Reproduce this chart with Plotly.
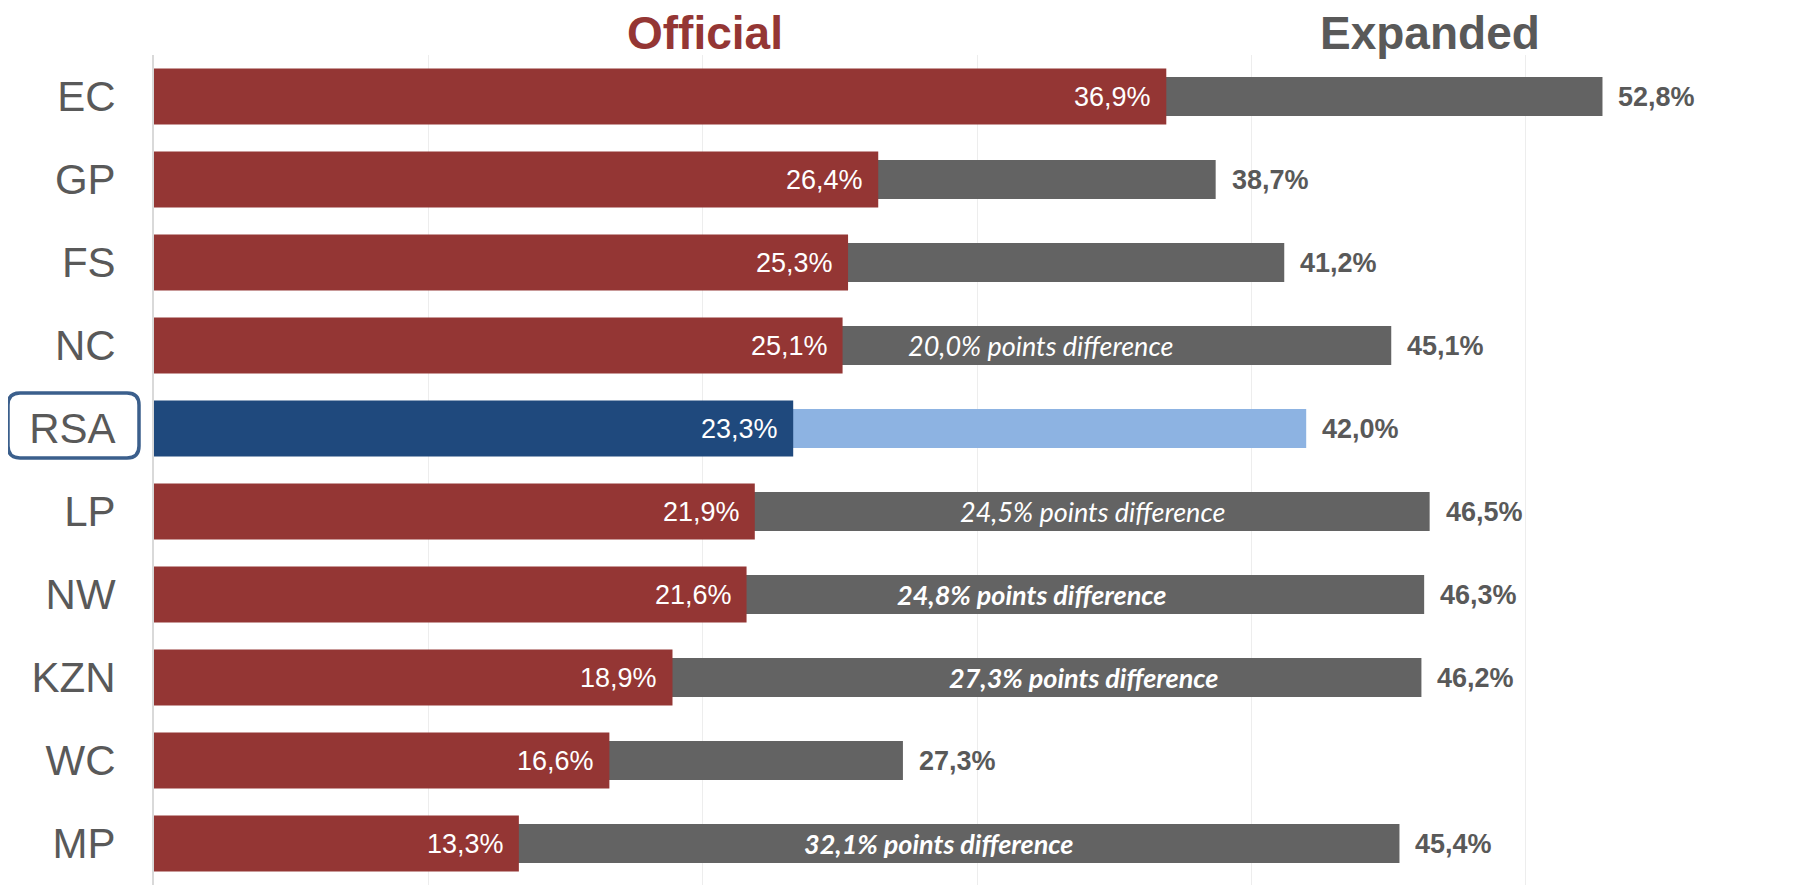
import plotly.graph_objects as go

# data
regions = ["EC", "GP", "FS", "NC", "RSA", "LP", "NW", "KZN", "WC", "MP"]
official = [36.9, 26.4, 25.3, 25.1, 23.3, 21.9, 21.6, 18.9, 16.6, 13.3]
expanded = [52.8, 38.7, 41.2, 45.1, 42.0, 46.5, 46.3, 46.2, 27.3, 45.4]

diff_regions = ["NC", "LP", "NW", "KZN", "MP"]
diff_texts = ["20,0% points difference", "24,5% points difference",
              "24,8% points difference", "27,3% points difference",
              "32,1% points difference"]
diff_bold = [False, False, True, True, True]
diff_x = [32.3, 34.2, 32.0, 33.9, 28.6]

highlight = "RSA"

RED = "#943634"
GREY = "#636363"
BLUE = "#1F497D"
LIGHTBLUE = "#8DB3E2"
TXT = "#595959"
FONT = "Liberation Sans, Arial, sans-serif"

# page body adds an 8px offset, so the figure is sized to fill the window
OFF = 8
W, H = 1800 - OFF, 885 - OFF
ML, MT = 154 - OFF, 55 - OFF


def pct(v):
    return f"{v:.1f}".replace(".", ",") + "%"


fig = go.Figure()

fig.add_bar(y=regions, x=expanded, orientation="h", width=0.47,
            marker=dict(color=[LIGHTBLUE if r == highlight else GREY for r in regions],
                        line=dict(width=0)),
            hoverinfo="skip", showlegend=False)
fig.add_bar(y=regions, x=official, orientation="h", width=0.675,
            marker=dict(color=[BLUE if r == highlight else RED for r in regions],
                        line=dict(width=0)),
            hoverinfo="skip", showlegend=False)

# value labels
for r, o, e in zip(regions, official, expanded):
    fig.add_annotation(x=o, y=r, text=pct(o), showarrow=False, xanchor="right",
                       xshift=-13, font=dict(family=FONT, size=27, color="white"))
    fig.add_annotation(x=e, y=r, text="<b>" + pct(e) + "</b>", showarrow=False,
                       xanchor="left", xshift=14, font=dict(family=FONT, size=27, color=TXT))

# difference notes
for r, t, b, x in zip(diff_regions, diff_texts, diff_bold, diff_x):
    txt = f"<i>{t}</i>"
    if b:
        txt = f"<b>{txt}</b>"
    fig.add_annotation(x=x, y=r, text=txt, showarrow=False,
                       font=dict(family="Lato, Carlito, sans-serif", size=27, color="white"))

# headers
fig.add_annotation(x=20.1, y=1, yref="paper", yanchor="bottom", yshift=-5,
                   text="<b>Official</b>", showarrow=False, borderpad=0,
                   font=dict(family=FONT, size=46, color=RED))
fig.add_annotation(x=46.5, y=1, yref="paper", yanchor="bottom", yshift=-5,
                   text="<b>Expanded</b>", showarrow=False, borderpad=0,
                   font=dict(family=FONT, size=46, color=TXT))

# rounded box around RSA label (screen pixel coords)
pw, ph = W - ML, H - MT
def px(x):
    return (x - OFF - ML) / pw
def py(y):
    return 1 - (y - OFF - MT) / ph
x0, x1, y0, y1, rad = 8, 139, 393, 458, 12
path = (f"M {px(x0 + rad)},{py(y0)} L {px(x1 - rad)},{py(y0)} "
        f"Q {px(x1)},{py(y0)} {px(x1)},{py(y0 + rad)} L {px(x1)},{py(y1 - rad)} "
        f"Q {px(x1)},{py(y1)} {px(x1 - rad)},{py(y1)} L {px(x0 + rad)},{py(y1)} "
        f"Q {px(x0)},{py(y1)} {px(x0)},{py(y1 - rad)} L {px(x0)},{py(y0 + rad)} "
        f"Q {px(x0)},{py(y0)} {px(x0 + rad)},{py(y0)} Z")
fig.add_shape(type="path", path=path, xref="paper", yref="paper",
              line=dict(color="#3B5F8C", width=3.5))

fig.update_layout(
    width=W, height=H,
    barmode="overlay",
    plot_bgcolor="white", paper_bgcolor="white",
    margin=dict(l=ML, r=0, t=MT, b=0),
    xaxis=dict(range=[0, 60], dtick=10, showgrid=True, gridcolor="#EDEDED",
               gridwidth=1, showticklabels=False, zeroline=False, showline=False),
    yaxis=dict(categoryorder="array", categoryarray=regions, range=[9.5, -0.5],
               showgrid=False, showline=True, linecolor="#D9D9D9", linewidth=2,
               ticks="", ticklabelstandoff=28,
               tickfont=dict(family=FONT, size=42, color=TXT)),
)

fig.write_html("out.html")
